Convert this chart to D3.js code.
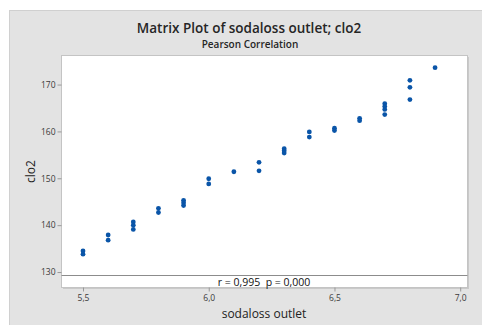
<!DOCTYPE html>
<html>
<head>
<meta charset="utf-8">
<script src="https://cdn.jsdelivr.net/npm/d3@7"></script>
<style>
  html, body { margin: 0; padding: 0; background: #ffffff; }
  svg { display: block; font-family: "Open Sans", "Noto Sans", sans-serif; }
</style>
</head>
<body>
<svg id="chart" width="482" height="325"></svg>
<script>
// sodaloss outlet (x) against clo2 (y)
const sodaloss = [5.5, 5.5, 5.6, 5.6, 5.7, 5.7, 5.7, 5.8, 5.8, 5.9, 5.9, 5.9,
                  6.0, 6.0, 6.1, 6.2, 6.2, 6.3, 6.3, 6.3, 6.4, 6.4, 6.5, 6.5,
                  6.6, 6.6, 6.7, 6.7, 6.7, 6.7, 6.8, 6.8, 6.8, 6.9];
const clo2 = [134.5, 133.8, 137.9, 136.8, 140.7, 140.0, 139.1, 143.6, 142.7, 145.3, 144.8, 144.2,
              149.9, 148.8, 151.4, 153.4, 151.6, 156.3, 155.9, 155.4, 159.9, 158.8, 160.7, 160.2,
              162.8, 162.3, 165.9, 165.3, 164.7, 163.6, 170.9, 169.4, 166.8, 173.6];
const xTicks = [5.5, 6.0, 6.5, 7.0];
const yTicks = [130, 140, 150, 160, 170];
const corrText = "r = 0,995  p = 0,000";
const title = "Matrix Plot of sodaloss outlet; clo2";
const subtitle = "Pearson Correlation";
const xLabel = "sodaloss outlet";
const yLabel = "clo2";

const svg = d3.select("#chart");
const box = { left: 61.5, top: 55.5, right: 467.5, bottom: 287.5 };

const x = d3.scaleLinear().domain([5.4145, 7.029]).range([box.left, box.right]);
const y = d3.scaleLinear().domain([126.7, 176.2]).range([box.bottom, box.top]);
const comma = d => d3.format(".1f")(d).replace(".", ",");

// grey frame
svg.append("rect").attr("x", 9.5).attr("y", 10.5).attr("width", 480).attr("height", 320)
  .attr("fill", "#e3e3e3").attr("stroke", "#d0d0d0");

svg.append("text").attr("x", 249).attr("y", 33).attr("text-anchor", "middle")
  .attr("font-size", 13.5).attr("font-weight", 600).attr("fill", "#262626").text(title);
svg.append("text").attr("x", 250).attr("y", 47.5).attr("text-anchor", "middle")
  .attr("font-size", 10).attr("font-weight", 600).attr("fill", "#262626").text(subtitle);

// panel
svg.append("rect").attr("x", box.left + 1.5).attr("y", box.top + 1.5)
  .attr("width", box.right - box.left).attr("height", box.bottom - box.top)
  .attr("fill", "#c9c9c9");
svg.append("rect").attr("x", box.left).attr("y", box.top)
  .attr("width", box.right - box.left).attr("height", box.bottom - box.top)
  .attr("fill", "#ffffff").attr("stroke", "#c4c4c4");

// correlation strip
svg.append("line").attr("x1", box.left).attr("x2", box.right)
  .attr("y1", 275.5).attr("y2", 275.5).attr("stroke", "#8c8c8c");
svg.append("text").attr("x", 264).attr("y", 285.5).attr("text-anchor", "middle")
  .style("white-space", "pre")
  .attr("font-size", 10.5).attr("fill", "#111").text(corrText);

// axes
const xAxis = svg.append("g").attr("transform", `translate(0,${box.bottom})`)
  .call(d3.axisBottom(x).tickValues(xTicks).tickFormat(comma).tickSize(4).tickPadding(3));
const yAxis = svg.append("g").attr("transform", `translate(${box.left},0)`)
  .call(d3.axisLeft(y).tickValues(yTicks).tickSize(4).tickPadding(2));
[xAxis, yAxis].forEach(g => {
  g.select(".domain").remove();
  g.selectAll(".tick line").attr("stroke", "#999");
  g.selectAll(".tick text").attr("fill", "#3a3a3a").attr("font-size", 8.5)
    .attr("font-family", "\"Open Sans\", sans-serif");
});

svg.append("text").attr("x", 264).attr("y", 318).attr("text-anchor", "middle")
  .attr("font-size", 12).attr("fill", "#222").text(xLabel);
svg.append("text").attr("transform", `translate(35,${(box.top + box.bottom) / 2}) rotate(-90)`)
  .attr("text-anchor", "middle").attr("font-size", 12).attr("fill", "#222").text(yLabel);

// points
svg.append("g").selectAll("circle").data(d3.range(sodaloss.length)).join("circle")
  .attr("cx", i => x(sodaloss[i])).attr("cy", i => y(clo2[i]))
  .attr("r", 2.4).attr("fill", "#0a55a8");
</script>
</body>
</html>
